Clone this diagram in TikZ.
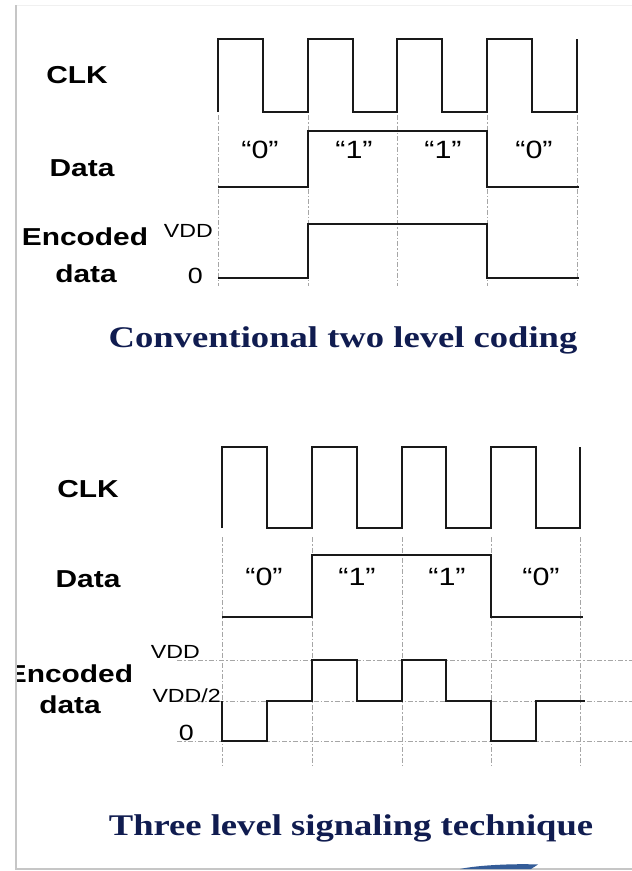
\documentclass[tikz,border=0pt]{standalone}
\usepackage{fontspec}
\usepackage{graphicx}
\setmainfont{Liberation Sans}
\newfontfamily\serifbf{Liberation Serif}
\newcommand\hst[1]{\scalebox{1.22}[1]{#1}}
\definecolor{navy}{RGB}{16,28,80}
\definecolor{slideblue}{RGB}{52,92,152}
\begin{document}
\begin{tikzpicture}[x=1pt,y=-1pt,
 wave/.style={line width=2.8pt, line join=miter, black!90},
 guide/.style={gray!70, line width=0.8pt, dash pattern=on 5pt off 2pt on 1.5pt off 2pt},
 lbl/.style={font=\fontsize{24.5}{26}\selectfont\bfseries, inner sep=0pt, anchor=base},
 lvl/.style={font=\fontsize{19}{21}\selectfont, inner sep=0pt, anchor=base east},
 zro/.style={font=\fontsize{22}{24}\selectfont, inner sep=0pt, anchor=base east},
 bit/.style={font=\fontsize{25}{27}\selectfont, inner sep=0pt, anchor=base},
 ttl/.style={font=\serifbf\fontsize{30}{32}\selectfont\bfseries, text=navy, inner sep=0pt, anchor=base}]
\useasboundingbox (0,0) rectangle (632,871);
\fill[white] (0,0) rectangle (632,871);
% slide frame
\draw[gray!12, line width=1pt] (16,5) -- (632,5);
\draw[gray!45, line width=1.5pt] (16,5) -- (16,869) -- (632,869);
\fill[slideblue] (460,869) .. controls (478,865) and (515,863.5) .. (538,864.5) -- (531,869) -- cycle;

%================ TOP: conventional two level =================
\foreach \x in {218,308,397,487,577} \draw[guide] (\x,115) -- (\x,286);
\draw[wave] (218,112) -- (218,39) -- (263,39) -- (263,112) -- (308,112) -- (308,39) -- (353,39) -- (353,112)
  -- (397,112) -- (397,39) -- (442,39) -- (442,112) -- (487,112) -- (487,39) -- (532,39) -- (532,112)
  -- (577,112) -- (577,39);
\draw[wave] (218,187) -- (308,187) -- (308,131) -- (487,131) -- (487,187) -- (579,187);
\draw[wave] (218,278) -- (308,278) -- (308,224) -- (487,224) -- (487,278) -- (579,278);

\node[lbl] (clkA) at (77,83) {\hst{CLK}};
\node[lbl] (dataA) at (82,176) {\hst{Data}};
\node[lbl] (encA) at (85,245) {\hst{Encoded}};
\node[lbl] (encAb) at (86,282) {\hst{data}};
\node[lvl] (vddA) at (213,237) {\hst{VDD}};
\node[zro] (zeroA) at (203,283) {\hst{0}};
\node[bit] (bA1) at (260,158) {\hst{“0”}};
\node[bit] (bA2) at (354,158) {\hst{“1”}};
\node[bit] (bA3) at (443,158) {\hst{“1”}};
\node[bit] (bA4) at (534,158) {\hst{“0”}};
\node[ttl] (titleA) at (343,347) {\hst{Conventional two level coding}};

%================ BOTTOM: three level =================
\foreach \x in {222,312,402,491,580} \draw[guide] (\x,537) -- (\x,766);
\foreach \y in {660,701,741} \draw[guide] (177,\y) -- (632,\y);
\draw[wave] (222,528) -- (222,447) -- (267,447) -- (267,528) -- (312,528) -- (312,447) -- (357,447) -- (357,528)
  -- (402,528) -- (402,447) -- (446,447) -- (446,528) -- (491,528) -- (491,447) -- (536,447) -- (536,528)
  -- (580,528) -- (580,447);
\draw[wave] (222,617) -- (312,617) -- (312,555) -- (491,555) -- (491,617) -- (583,617);
\draw[wave] (222,701) -- (222,741) -- (267,741) -- (267,701) -- (312,701) -- (312,660) -- (357,660) -- (357,701)
  -- (402,701) -- (402,660) -- (446,660) -- (446,701) -- (491,701) -- (491,741) -- (536,741) -- (536,701) -- (585,701);

\node[lbl] (clkB) at (88,497) {\hst{CLK}};
\node[lbl] (dataB) at (88,587) {\hst{Data}};
\begin{scope}
\clip (17,0) rectangle (632,871);
\node[lbl] (encB) at (70,682) {\hst{Encoded}};
\end{scope}
\node[lbl] (encBb) at (70,713) {\hst{data}};
\node[lvl] (vddB) at (200,658) {\hst{VDD}};
\node[lvl] (halfB) at (221,702) {\hst{VDD/2}};
\node[zro] (zeroB) at (194,740) {\hst{0}};
\node[bit] (bB1) at (264,585) {\hst{“0”}};
\node[bit] (bB2) at (357,585) {\hst{“1”}};
\node[bit] (bB3) at (447,585) {\hst{“1”}};
\node[bit] (bB4) at (541,585) {\hst{“0”}};
\node[ttl] (titleB) at (351,835) {\hst{Three level signaling technique}};
\end{tikzpicture}
\end{document}
